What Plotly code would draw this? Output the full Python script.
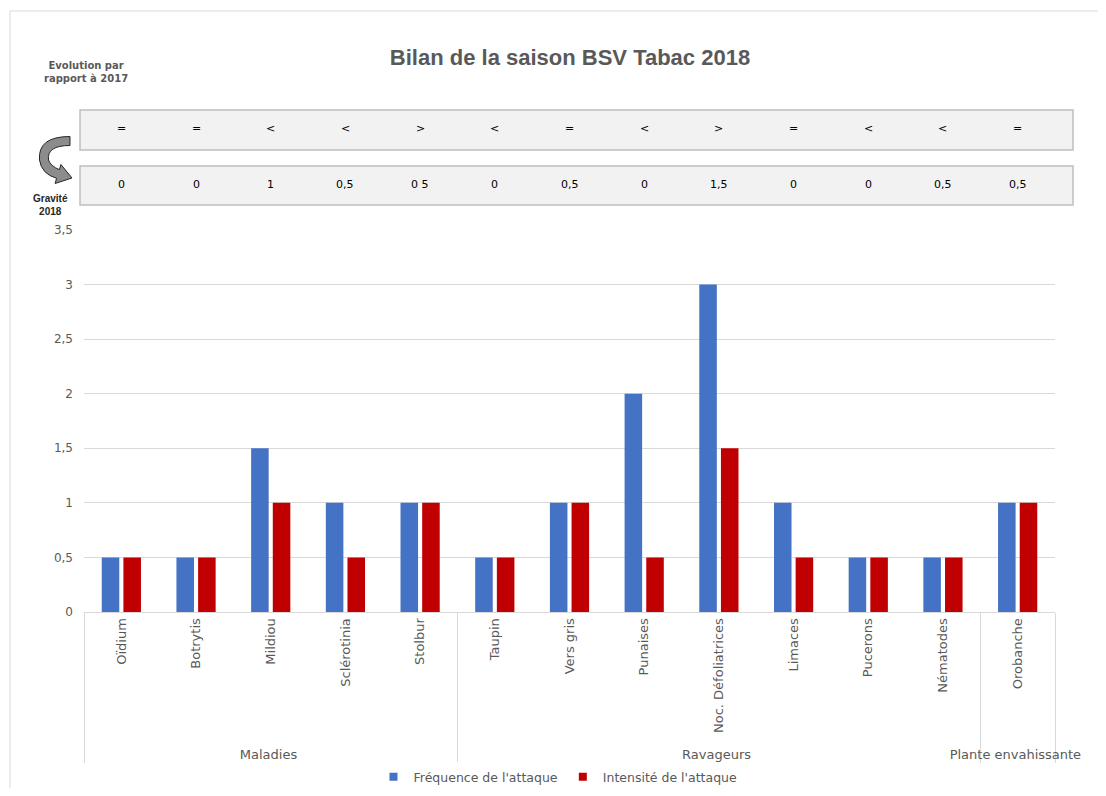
import plotly.graph_objects as go

# ---------------- data ----------------
categories = ["Oïdium", "Botrytis", "Mildiou", "Sclérotinia", "Stolbur",
              "Taupin", "Vers gris", "Punaises", "Noc. Défoliatrices",
              "Limaces", "Pucerons", "Nématodes", "Orobanche"]
groups = ["Maladies"] * 5 + ["Ravageurs"] * 7 + ["Plante envahissante"]
frequence = [0.5, 0.5, 1.5, 1, 1, 0.5, 1, 2, 3, 1, 0.5, 0.5, 1]
intensite = [0.5, 0.5, 1, 0.5, 1, 0.5, 1, 0.5, 1.5, 0.5, 0.5, 0.5, 1]
evolution = ["=", "=", "<", "<", ">", "<", "=", "<", ">", "=", "<", "<", "="]
gravite = ["0", "0", "1", "0,5", "0 5", "0", "0,5", "0", "1,5", "0", "0", "0,5", "0,5"]
y_ticks = [0, 0.5, 1, 1.5, 2, 2.5, 3, 3.5]

# page body margin offset (figure drawn at 8,8 in the page)
OFF = 8
W, H = 1090, 780
L, R, T, B = 84 - OFF, 1055 - OFF, 230 - OFF, 612 - OFF
FONT = "Liberation Sans, Arial, sans-serif"
WIDE = "DejaVu Sans, Verdana, sans-serif"
GREY = "#595959"


def px(x):
    return (x - OFF - L) / (R - L)


def py(y):
    return (B - (y - OFF)) / (B - T)


fig = go.Figure()
fig.add_trace(go.Bar(x=[groups, categories], y=frequence, name="Fréquence de l'attaque",
                     marker=dict(color="#4472C4", line=dict(width=0)), showlegend=False))
fig.add_trace(go.Bar(x=[groups, categories], y=intensite, name="Intensité de l'attaque",
                     marker=dict(color="#C00000", line=dict(width=0)), showlegend=False))
for name, col in [("Fréquence de l'attaque", "#4472C4"), ("Intensité de l'attaque", "#C00000")]:
    fig.add_trace(go.Scatter(x=[None], y=[None], mode="markers", name=name,
                             marker=dict(symbol="square", size=8, color=col)))

shapes = []
# boxes
for (y0, y1) in [(110, 150), (166, 205)]:
    shapes.append(dict(type="rect", xref="paper", yref="paper",
                       x0=px(80), x1=px(1073), y0=py(y1), y1=py(y0),
                       fillcolor="#f2f2f2", line=dict(color="#bfbfbf", width=1.5),
                       layer="below"))
# curved arrow
pts = [("M", [(70, 136.5)]), ("Q", [(37.5, 136.5), (39.5, 160)]),
       ("Q", [(41.5, 174), (56.6, 178.3)]), ("L", [(55.1, 183.5)]), ("L", [(72, 178)]),
       ("L", [(60.9, 164.5)]), ("L", [(59.4, 169.7)]), ("Q", [(50.5, 166), (48.5, 160)]),
       ("Q", [(46.5, 145.5), (70, 145.5)])]
path = ""
for cmd, ps in pts:
    path += cmd + " " + " ".join(f"{px(a):.5f},{py(b):.5f}" for a, b in ps) + " "
path += "Z"
shapes.append(dict(type="path", xref="paper", yref="paper", path=path,
                   fillcolor="#8c8c8c", line=dict(color="#262626", width=1)))
# spreadsheet background lines
shapes.append(dict(type="line", xref="paper", yref="paper", x0=px(10), x1=px(1106),
                   y0=py(11), y1=py(11), line=dict(color="#d9d9d9", width=1)))
shapes.append(dict(type="line", xref="paper", yref="paper", x0=px(10), x1=px(10),
                   y0=py(11), y1=py(796), line=dict(color="#d9d9d9", width=1)))

annotations = []
n = len(categories)
for i in range(n):
    xc = (i + 0.5) / n
    annotations.append(dict(xref="paper", yref="paper", x=xc, y=py(129), text=evolution[i],
                            showarrow=False, xanchor="center", yanchor="middle",
                            font=dict(family=WIDE, size=11, color="#000000")))
    annotations.append(dict(xref="paper", yref="paper", x=xc, y=py(184), text=gravite[i],
                            showarrow=False, xanchor="center", yanchor="middle",
                            font=dict(family=WIDE, size=11, color="#000000")))
annotations.append(dict(xref="paper", yref="paper", x=px(86), y=py(72),
                        text="<b>Evolution par<br>rapport à 2017</b>", showarrow=False,
                        xanchor="center", yanchor="middle",
                        font=dict(family=WIDE, size=10, color=GREY)))
annotations.append(dict(xref="paper", yref="paper", x=px(50), y=py(205),
                        text="<b>Gravité<br>2018</b>", showarrow=False,
                        xanchor="center", yanchor="middle",
                        font=dict(family=FONT, size=10, color="#262626")))

fig.update_layout(
    width=W, height=H,
    margin=dict(l=L, r=W - R, t=T, b=H - B, autoexpand=False),
    paper_bgcolor="white", plot_bgcolor="white",
    separators=", ",
    font=dict(family=WIDE, size=13, color=GREY),
    title=dict(text="<b>Bilan de la saison BSV Tabac 2018</b>", x=(570 - OFF) / W,
               xanchor="center", y=1 - (57 - OFF) / H, yanchor="middle", yref="container",
               font=dict(family=FONT, size=22, color=GREY)),
    barmode="group", bargap=0.42, bargroupgap=0.19,
    legend=dict(orientation="h", x=px(558), xanchor="center", y=py(777), yanchor="middle",
                font=dict(family=WIDE, size=12.5, color=GREY), itemwidth=30,
                tracegroupgap=0),
    shapes=shapes, annotations=annotations,
)
fig.update_yaxes(range=[0, 3.5], tickvals=y_ticks, showgrid=True, gridcolor="#d9d9d9",
                 gridwidth=1, zeroline=False, showline=False,
                 tickfont=dict(family=WIDE, size=12, color=GREY), ticks="",
                 ticklabelstandoff=10)
fig.update_xaxes(type="multicategory", tickangle=-90, showline=True, linecolor="#d9d9d9",
                 linewidth=1, showdividers=True, dividercolor="#d9d9d9", dividerwidth=1,
                 tickfont=dict(family=WIDE, size=13, color=GREY), ticks="")

fig.write_html("out.html")
